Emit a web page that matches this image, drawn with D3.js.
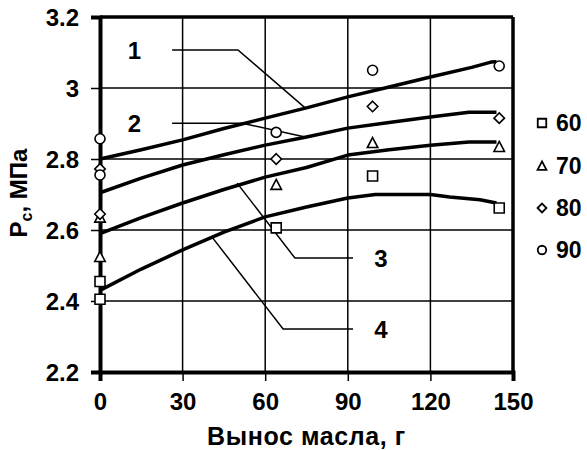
<!DOCTYPE html>
<html>
<head>
<meta charset="utf-8">
<script src="https://cdn.jsdelivr.net/npm/d3@7"></script>
<style>
  body { margin: 0; background: #fff; }
  text { font-family: "Liberation Sans", Arial, sans-serif; font-weight: bold; fill: #000; }
</style>
</head>
<body>
<div id="container"></div>
<script>
"use strict";

const width = 587;
const height = 450;

// tick values
const xTicks = [0, 30, 60, 90, 120, 150];
const yTicks = [2.2, 2.4, 2.6, 2.8, 3.0, 3.2];
const yTickLabels = ["2.2", "2.4", "2.6", "2.8", "3", "3.2"];

// fitted curves 1..4 (x = oil carry-over, g ; y = Pc, MPa)
const curve1 = [[0,2.80],[15,2.826],[30,2.854],[45,2.886],[60,2.915],[75,2.944],[90,2.975],[105,3.003],[120,3.031],[135,3.058],[142,3.073],[144,3.074]];
const curve2 = [[0,2.705],[15,2.746],[30,2.783],[45,2.812],[60,2.839],[75,2.862],[90,2.887],[105,2.903],[120,2.918],[134,2.932],[144,2.932]];
const curve3 = [[0,2.59],[15,2.635],[30,2.676],[45,2.714],[60,2.749],[75,2.776],[90,2.811],[105,2.826],[120,2.839],[134,2.848],[144,2.848]];
const curve4 = [[0,2.43],[15,2.49],[30,2.544],[45,2.594],[60,2.637],[75,2.665],[90,2.69],[100,2.70],[120,2.70],[127,2.693],[138,2.685],[144,2.676]];

// measured points by series (60, 70, 80, 90)
const pts60 = [[0,2.405],[0,2.455],[64,2.606],[99,2.752],[145,2.662]];
const pts70 = [[0,2.524],[0,2.635],[64,2.727],[99,2.845],[145,2.834]];
const pts80 = [[0,2.645],[0,2.772],[64,2.80],[99,2.948],[145,2.915]];
const pts90 = [[0,2.755],[0,2.857],[64,2.875],[99,3.05],[145,3.062]];
const seriesNames = ["60", "70", "80", "90"];

// curve number labels and their leader lines (data units)
const labelNames = ["1", "2", "3", "4"];
const labelPos = [[12.5,3.107],[12.5,2.901],[102,2.521],[102,2.321]];
const leaders = [
    [[26.2,3.107],[50.1,3.107],[74.5,2.944]],
    [[26.2,2.901],[51.6,2.901],[74.5,2.862]],
    [[91.9,2.521],[70.8,2.521],[49.8,2.732]],
    [[91.9,2.321],[66.5,2.321],[40.7,2.580]]
];

const margin = {left: 100, right: 74, top: 17, bottom: 78};

const x = d3.scaleLinear().domain([0, 150]).range([margin.left, width - margin.right]);
const y = d3.scaleLinear().domain([2.2, 3.2]).range([height - margin.bottom, margin.top]);

const svg = d3.select("#container").append("svg")
    .attr("width", width)
    .attr("height", height);

// grid
svg.append("g")
    .selectAll("line")
    .data(xTicks.slice(1, -1))
    .enter().append("line")
    .attr("x1", d => x(d)).attr("x2", d => x(d))
    .attr("y1", y(3.2)).attr("y2", y(2.2))
    .attr("stroke", "#000").attr("stroke-width", 1.5);
svg.append("g")
    .selectAll("line")
    .data(yTicks.slice(1, -1))
    .enter().append("line")
    .attr("x1", x(0)).attr("x2", x(150))
    .attr("y1", d => y(d)).attr("y2", d => y(d))
    .attr("stroke", "#000").attr("stroke-width", 1.5);

// axes
const xAxis = svg.append("g")
    .attr("transform", "translate(0," + y(2.2) + ")")
    .call(d3.axisBottom(x).tickValues(xTicks).tickSize(9).tickPadding(12));
const yAxis = svg.append("g")
    .attr("transform", "translate(" + x(0) + ",0)")
    .call(d3.axisLeft(y).tickValues(yTicks).tickSize(9).tickPadding(12)
        .tickFormat((d, i) => yTickLabels[i]));
[xAxis, yAxis].forEach(a => {
    a.select(".domain").attr("stroke", "#000").attr("stroke-width", 4);
    a.selectAll(".tick line").attr("stroke", "#000").attr("stroke-width", 1.5);
    a.selectAll(".tick text").style("font-size", "24px").attr("fill", "#000");
});
yAxis.selectAll(".tick text").attr("dy", "0.36em");

// top and right frame
svg.append("line")
    .attr("x1", x(0)).attr("x2", x(150)).attr("y1", y(3.2)).attr("y2", y(3.2))
    .attr("stroke", "#000").attr("stroke-width", 3.5);
svg.append("line")
    .attr("x1", x(150)).attr("x2", x(150)).attr("y1", y(3.2)).attr("y2", y(2.2))
    .attr("stroke", "#000").attr("stroke-width", 3.5);

// leader lines
const line = d3.line().x(d => x(d[0])).y(d => y(d[1]));
svg.append("g")
    .selectAll("path")
    .data(leaders)
    .enter().append("path")
    .attr("d", line)
    .attr("fill", "none")
    .attr("stroke", "#000")
    .attr("stroke-width", 1.5);

// curves
svg.append("g")
    .selectAll("path")
    .data([curve1, curve2, curve3, curve4])
    .enter().append("path")
    .attr("d", line)
    .attr("fill", "none")
    .attr("stroke", "#000")
    .attr("stroke-width", 3.5)
    .attr("stroke-linejoin", "round");

// curve labels
svg.append("g")
    .selectAll("text")
    .data(labelPos)
    .enter().append("text")
    .attr("x", d => x(d[0]))
    .attr("y", d => y(d[1]))
    .attr("dy", "0.36em")
    .attr("text-anchor", "middle")
    .style("font-size", "24px")
    .text((d, i) => labelNames[i]);

// marker shapes
function markerPath(kind, s) {
    const h = s / 2;
    if (kind === "square") return "M" + (-h) + "," + (-h) + "h" + s + "v" + s + "h" + (-s) + "Z";
    if (kind === "triangle") return "M0," + (-h * 1.1) + "L" + (h * 1.05) + "," + (h * 0.9) + "L" + (-h * 1.05) + "," + (h * 0.9) + "Z";
    if (kind === "diamond") return "M0," + (-h * 1.05) + "L" + (h * 1.05) + ",0L0," + (h * 1.05) + "L" + (-h * 1.05) + ",0Z";
    return d3.arc()({innerRadius: 0, outerRadius: h, startAngle: 0, endAngle: 2 * Math.PI});
}
const kinds = ["square", "triangle", "diamond", "circle"];
const allPts = [pts60, pts70, pts80, pts90];

allPts.forEach((pts, k) => {
    svg.append("g")
        .selectAll("path")
        .data(pts)
        .enter().append("path")
        .attr("transform", d => "translate(" + x(d[0]) + "," + y(d[1]) + ")")
        .attr("d", markerPath(kinds[k], 10))
        .attr("fill", "#fff")
        .attr("stroke", "#000")
        .attr("stroke-width", 1.6);
});

// legend
const legendY = [123, 166, 208, 250];
const legend = svg.append("g");
seriesNames.forEach((name, k) => {
    legend.append("path")
        .attr("transform", "translate(542," + legendY[k] + ")")
        .attr("d", markerPath(kinds[k], 8.5))
        .attr("fill", "#fff")
        .attr("stroke", "#000")
        .attr("stroke-width", 1.8);
    legend.append("text")
        .attr("x", 556)
        .attr("y", legendY[k])
        .attr("dy", "0.36em")
        .style("font-size", "23px")
        .text(name);
});

// axis titles
svg.append("text")
    .attr("x", (x(0) + x(150)) / 2)
    .attr("y", 445)
    .attr("text-anchor", "middle")
    .style("font-size", "25px")
    .style("letter-spacing", "0.6px")
    .text("Вынос масла, г");

const yt = svg.append("text")
    .attr("transform", "translate(27,193) rotate(-90)")
    .attr("text-anchor", "middle")
    .style("font-size", "24px");
yt.append("tspan").text("P");
yt.append("tspan").attr("dy", 5).style("font-size", "16px").text("c");
yt.append("tspan").attr("dy", -5).text(", МПа");
</script>
</body>
</html>
